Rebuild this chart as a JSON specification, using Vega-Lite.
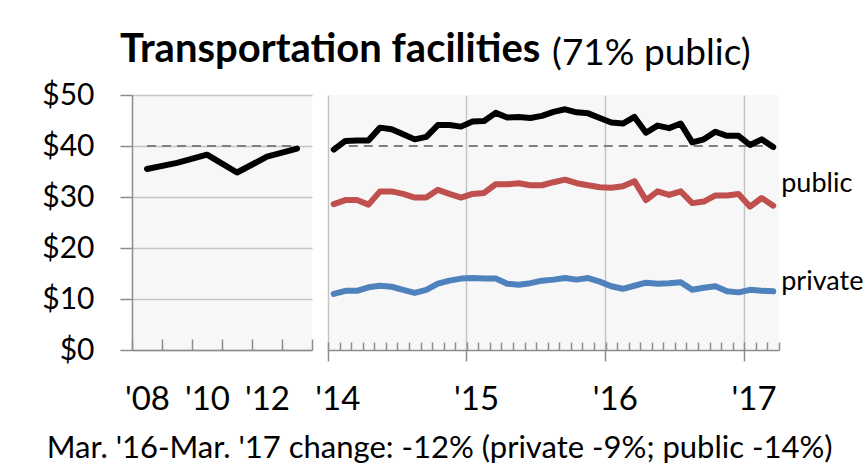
{
  "$schema": "https://vega.github.io/schema/vega-lite/v6.json",
  "padding": {"left": 41, "top": 30, "right": 0, "bottom": 0},
  "datasets": {
    "annual": [
      {"year": "2008", "total": 35.5},
      {"year": "2009", "total": 36.7},
      {"year": "2010", "total": 38.3},
      {"year": "2011", "total": 34.8},
      {"year": "2012", "total": 37.9},
      {"year": "2013", "total": 39.5}
    ],
    "monthly": [
      {"m": "2014-01", "total": 39.3, "public": 28.6, "private": 11.0},
      {"m": "2014-02", "total": 41.0, "public": 29.4, "private": 11.6},
      {"m": "2014-03", "total": 41.1, "public": 29.4, "private": 11.6},
      {"m": "2014-04", "total": 41.1, "public": 28.5, "private": 12.3},
      {"m": "2014-05", "total": 43.6, "public": 31.1, "private": 12.6},
      {"m": "2014-06", "total": 43.3, "public": 31.1, "private": 12.4},
      {"m": "2014-07", "total": 42.3, "public": 30.6, "private": 11.8},
      {"m": "2014-08", "total": 41.3, "public": 29.9, "private": 11.2},
      {"m": "2014-09", "total": 41.8, "public": 29.9, "private": 11.8},
      {"m": "2014-10", "total": 44.1, "public": 31.4, "private": 13.0},
      {"m": "2014-11", "total": 44.1, "public": 30.6, "private": 13.6},
      {"m": "2014-12", "total": 43.8, "public": 29.9, "private": 14.0},
      {"m": "2015-01", "total": 44.8, "public": 30.6, "private": 14.1},
      {"m": "2015-02", "total": 44.9, "public": 30.8, "private": 14.0},
      {"m": "2015-03", "total": 46.5, "public": 32.5, "private": 14.0},
      {"m": "2015-04", "total": 45.6, "public": 32.5, "private": 13.0},
      {"m": "2015-05", "total": 45.7, "public": 32.7, "private": 12.8},
      {"m": "2015-06", "total": 45.5, "public": 32.3, "private": 13.1},
      {"m": "2015-07", "total": 45.9, "public": 32.3, "private": 13.6},
      {"m": "2015-08", "total": 46.7, "public": 32.9, "private": 13.8},
      {"m": "2015-09", "total": 47.2, "public": 33.4, "private": 14.1},
      {"m": "2015-10", "total": 46.6, "public": 32.7, "private": 13.8},
      {"m": "2015-11", "total": 46.4, "public": 32.3, "private": 14.1},
      {"m": "2015-12", "total": 45.5, "public": 31.9, "private": 13.4},
      {"m": "2016-01", "total": 44.6, "public": 31.8, "private": 12.5},
      {"m": "2016-02", "total": 44.4, "public": 32.1, "private": 12.0},
      {"m": "2016-03", "total": 45.7, "public": 33.1, "private": 12.6},
      {"m": "2016-04", "total": 42.6, "public": 29.4, "private": 13.2},
      {"m": "2016-05", "total": 44.0, "public": 31.1, "private": 13.0},
      {"m": "2016-06", "total": 43.5, "public": 30.4, "private": 13.1},
      {"m": "2016-07", "total": 44.4, "public": 31.1, "private": 13.3},
      {"m": "2016-08", "total": 40.7, "public": 28.8, "private": 11.8},
      {"m": "2016-09", "total": 41.3, "public": 29.1, "private": 12.2},
      {"m": "2016-10", "total": 42.8, "public": 30.3, "private": 12.5},
      {"m": "2016-11", "total": 42.0, "public": 30.3, "private": 11.5},
      {"m": "2016-12", "total": 42.0, "public": 30.6, "private": 11.3},
      {"m": "2017-01", "total": 40.2, "public": 28.1, "private": 11.8},
      {"m": "2017-02", "total": 41.3, "public": 29.8, "private": 11.6},
      {"m": "2017-03", "total": 39.8, "public": 28.3, "private": 11.5}
    ],
    "labels": [
      {"m": "2017-03", "s": "public", "v": 32.5},
      {"m": "2017-03", "s": "private", "v": 13.4}
    ]
  },
  "title": {
    "text": "Mar. '16-Mar. '17 change: -12% (private -9%; public -14%)",
    "orient": "bottom",
    "anchor": "middle",
    "fontSize": 31,
    "fontWeight": "normal",
    "offset": 18,
    "dx": -13
  },
  "spacing": 16,
  "bounds": "flush",
  "hconcat": [
    {
      "width": 180,
      "height": 255,
      "title": {"text": "Transportation facilities", "anchor": "start", "frame": "group", "baseline": "alphabetic", "dx": -12, "fontSize": 40, "fontWeight": "bold", "offset": -22},
      "data": {"name": "annual"},
      "layer": [
        {
          "mark": {"type": "line", "color": "#808080", "strokeWidth": 2, "strokeDash": [9, 6]},
          "encoding": {
            "x": {
              "field": "year", "type": "ordinal",
              "scale": {"type": "band", "paddingInner": 0, "paddingOuter": 0},
              "axis": {"title": null, "tickBand": "extent", "tickSize": -11, "labelPadding": 44, "labelAngle": 0, "labelFontSize": 33,
                       "labelExpr": "indexof(['2008','2010','2012'], datum.value) >= 0 ? \"'\" + substring(datum.value, 2, 4) : ''"}
            },
            "y": {
              "datum": 40, "type": "quantitative",
              "scale": {"domain": [0, 50]},
              "axis": {"title": null, "values": [0, 10, 20, 30, 40, 50], "grid": true, "tickSize": 12, "labelPadding": 26,
                       "labelExpr": "'$' + datum.value"}
            }
          }
        },
        {
          "mark": {"type": "line", "color": "#000000", "strokeWidth": 6, "strokeJoin": "round", "strokeCap": "round"},
          "encoding": {
            "x": {"field": "year", "type": "ordinal"},
            "y": {"field": "total", "type": "quantitative"}
          }
        }
      ]
    },
    {
      "width": 451,
      "height": 255,
      "title": {"text": "(71% public)", "anchor": "start", "frame": "group", "baseline": "alphabetic", "dx": 224, "fontSize": 37, "fontWeight": "normal", "offset": -7},
      "data": {"name": "monthly"},
      "resolve": {"axis": {"x": "independent"}},
      "layer": [
        {
          "mark": {"type": "line", "color": "#808080", "strokeWidth": 2, "strokeDash": [9, 6]},
          "encoding": {
            "x": {
              "field": "m", "type": "ordinal",
              "scale": {"type": "band", "paddingInner": 0, "paddingOuter": 0},
              "axis": {"title": null, "orient": "bottom", "values": ["2014-01", "2015-01", "2016-01", "2017-01"],
                       "bandPosition": 0, "grid": true, "tickSize": 11, "domain": false, "labelPadding": 22, "labelAngle": 0,
                       "labelFontSize": 33, "labelOffset": 4,
                       "labelExpr": "\"'\" + substring(datum.value, 2, 4)", "zindex": 0}
            },
            "y": {
              "datum": 40, "type": "quantitative",
              "scale": {"domain": [0, 50]},
              "axis": {"title": null, "values": [0, 10, 20, 30, 40, 50], "grid": true, "domain": false, "ticks": false, "labels": false}
            }
          }
        },
        {
          "transform": [{"fold": ["total", "public", "private"], "as": ["s", "v"]}],
          "mark": {"type": "line", "strokeWidth": 6, "strokeJoin": "round", "strokeCap": "round"},
          "encoding": {
            "x": {
              "field": "m", "type": "ordinal",
              "axis": {"title": null, "orient": "bottom", "tickBand": "extent", "tickSize": -8, "labels": false, "grid": false, "domain": true, "zindex": 1}
            },
            "y": {"field": "v", "type": "quantitative", "axis": null},
            "color": {
              "field": "s", "type": "nominal",
              "scale": {"domain": ["total", "public", "private"], "range": ["#000000", "#c0504d", "#4f81bd"]},
              "legend": null
            }
          }
        },
        {
          "data": {"name": "labels"},
          "mark": {"type": "text", "align": "left", "baseline": "middle", "dx": 8, "fontSize": 27, "color": "#000000"},
          "encoding": {
            "x": {"field": "m", "type": "ordinal", "axis": null},
            "y": {"field": "v", "type": "quantitative", "axis": null},
            "text": {"field": "s"}
          }
        }
      ]
    }
  ],
  "config": {
    "font": "Lato",
    "view": {"fill": "#f7f7f7", "stroke": null},
    "axis": {
      "gridColor": "#c4c4c4", "gridWidth": 1.5,
      "domainColor": "#8c8c8c", "domainWidth": 1.5,
      "tickColor": "#8c8c8c", "tickWidth": 1.5,
      "labelFont": "Lato", "labelFontSize": 30, "labelColor": "#000000"
    },
    "title": {"font": "Lato", "color": "#000000"}
  }
}
